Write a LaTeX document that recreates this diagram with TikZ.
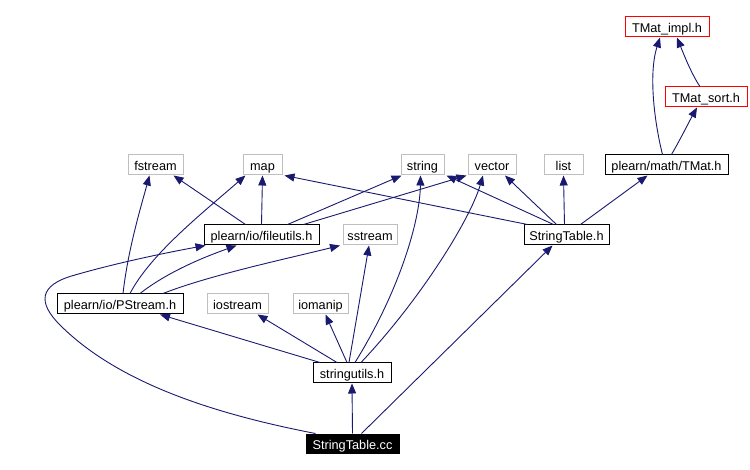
\documentclass[tikz,border=0pt]{standalone}
\usepackage{fontspec}
\setmainfont{Liberation Sans}
\usetikzlibrary{arrows.meta}
\definecolor{navyedge}{HTML}{191970}
\definecolor{sysgray}{HTML}{BFBFBF}
\begin{document}
\begin{tikzpicture}[x=1pt,y=-1pt,
  box/.style={draw=black, line width=1pt, inner sep=0pt, minimum height=20pt, fill=white,
    text height=11.5pt, text depth=0pt,
    font=\fontsize{12.7}{14}\selectfont},
  sysbox/.style={box, draw=sysgray},
  redbox/.style={box, draw=red},
  rootbox/.style={box, fill=black, text=white},
  dep/.style={draw=navyedge, line width=0.9pt, -{Triangle[length=10pt,width=8pt]}}]
\useasboundingbox (0,0) rectangle (750,470);
\fill[white] (0,0) rectangle (750,470);

\node[redbox, minimum width=84pt] (impl) at (667,27) {TMat\_impl.h};
\node[redbox, minimum width=82pt] (sort) at (706,97) {TMat\_sort.h};
\node[box, minimum width=123pt] (tmat) at (666.5,165) {plearn/math/TMat.h};
\node[sysbox, minimum width=55pt] (fstream) at (155.5,165) {fstream};
\node[sysbox, minimum width=39pt] (map) at (262.5,165) {map};
\node[sysbox, minimum width=43pt] (string) at (422.5,165) {string};
\node[sysbox, minimum width=48pt] (vector) at (492,165) {vector};
\node[sysbox, minimum width=39pt] (list) at (563.5,165) {list};
\node[box, minimum width=115pt] (fu) at (261.5,235) {plearn/io/fileutils.h};
\node[sysbox, minimum width=54pt] (sstream) at (370,235) {sstream};
\node[box, minimum width=85pt] (sth) at (566.5,235) {StringTable.h};
\node[box, minimum width=126pt] (ps) at (120,304) {plearn/io/PStream.h};
\node[sysbox, minimum width=61pt] (iostream) at (237.5,304) {iostream};
\node[sysbox, minimum width=55pt] (iomanip) at (320.5,304) {iomanip};
\node[box, minimum width=78pt] (su) at (352,373) {stringutils.h};
\node[rootbox, minimum width=93pt, minimum height=19pt] (cc) at (352.5,443.5) {StringTable.cc};

% TMat family
\draw[dep] ([xshift=-6pt]sort.north) .. controls (692,75) and (684,55) .. ([xshift=10pt]impl.south);
\draw[dep] ([xshift=-4pt]tmat.north) .. controls (655,125) and (648,75) .. ([xshift=-7pt]impl.south);
\draw[dep] ([xshift=5pt]tmat.north) .. controls (680,140) and (690,120) .. ([xshift=-9pt]sort.south);

% StringTable.h
\draw[dep] ([xshift=14pt]sth.north) -- ([xshift=-19pt]tmat.south);
\draw[dep] ([xshift=-2pt]sth.north) -- (list.south);
\draw[dep] ([xshift=-10pt]sth.north) -- ([xshift=13pt]vector.south);
\draw[dep] ([xshift=-13pt]sth.north) -- ([xshift=2pt]string.south east);
\draw[dep] ([xshift=-39pt]sth.north) -- ([xshift=2pt]map.south east);

% fileutils.h
\draw[dep] ([xshift=-16pt]fu.north) -- ([xshift=18pt]fstream.south);
\draw[dep] (fu.north) -- (map.south);
\draw[dep] ([xshift=26pt]fu.north) -- ([xshift=-21pt]string.south);
\draw[dep] ([xshift=42pt]fu.north) -- ([xshift=-1pt]vector.south west);

% PStream.h
\draw[dep] ([xshift=3pt]ps.north) .. controls (128,250) and (140,210) .. ([xshift=-6pt]fstream.south);
\draw[dep] ([xshift=10pt]ps.north) .. controls (150,255) and (200,215) .. ([xshift=-17pt]map.south);
\draw[dep] ([xshift=20pt]ps.north) .. controls (170,270) and (210,255) .. ([xshift=-25pt]fu.south);
\draw[dep] ([xshift=43pt]ps.north) .. controls (210,275) and (290,258) .. ([xshift=-30pt]sstream.south);

% stringutils.h
\draw[dep] ([xshift=-32pt]su.north) -- ([xshift=40pt]ps.south);
\draw[dep] ([xshift=-15pt]su.north) -- ([xshift=20pt]iostream.south);
\draw[dep] ([xshift=-5pt]su.north) -- ([xshift=5pt]iomanip.south);
\draw[dep] ([xshift=-3pt]su.north) -- ([xshift=-1pt]sstream.south);
\draw[dep] ([xshift=3pt]su.north) .. controls (400,290) and (420,220) .. ([xshift=-2pt]string.south);
\draw[dep] ([xshift=9pt]su.north) .. controls (420,300) and (470,220) .. ([xshift=-9pt]vector.south);

% StringTable.cc
\draw[dep] (cc.north) -- (su.south);
\draw[dep] ([xshift=9pt]cc.north) -- ([xshift=-14pt]sth.south);
\draw[dep] ([xshift=-37pt]cc.north) .. controls (220,415) and (120,385) .. (60,325)
  .. controls (38,303) and (38,285) .. (75,275)
  .. controls (120,262) and (170,252) .. ([xshift=-56pt]fu.south);
\end{tikzpicture}
\end{document}
